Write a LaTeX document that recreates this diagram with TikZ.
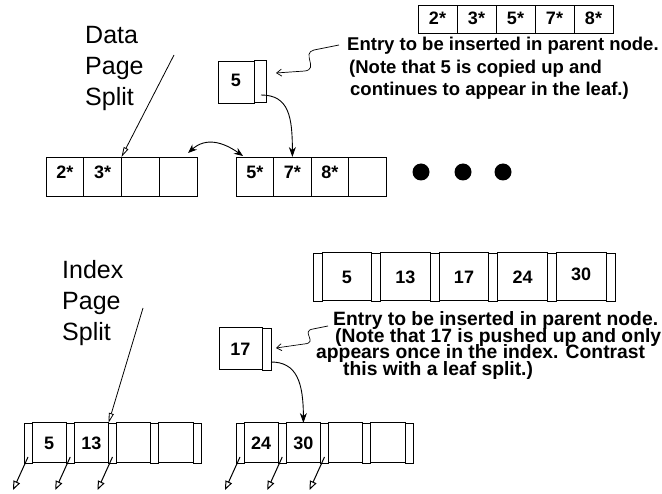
\documentclass[tikz,border=0pt]{standalone}
\usepackage{fontspec}
\setmainfont{Liberation Sans}
\usetikzlibrary{arrows.meta}

\newcommand{\splitfont}{\fontsize{25}{31}\selectfont}
\newcommand{\notefont}{\bfseries\fontsize{18.5}{22}\selectfont}
\newcommand{\keyfont}{\bfseries\fontsize{18}{21}\selectfont}

\tikzset{
  cellbox/.style={draw, line width=0.8pt, anchor=north west, inner sep=0pt,
    outer sep=0pt, font=\keyfont},
  datacell/.style={cellbox, minimum width=37.75pt, minimum height=39pt, text depth=8pt},
  keycell/.style={cellbox, line width=1pt, minimum width=34.25pt, minimum height=40pt},
  ptrcell/.style={cellbox, minimum width=8pt, minimum height=40pt},
  heading/.style={anchor=north west, align=left, inner sep=0pt, font=\splitfont},
  note/.style={anchor=base west, inner sep=0pt, font=\notefont},
  splitarrow/.style={line width=0.8pt, -{Triangle[open, length=10pt, width=5pt]}},
  curvearrow/.style={line width=0.9pt, -{Stealth[length=10pt, width=7pt]}},
  ptrarrow/.style={line width=1pt, -{Triangle[open, length=9pt, width=7pt]}},
  squiggle/.style={line width=0.7pt, -{Straight Barb[length=5pt, width=7pt]}},
}

\begin{document}
\begin{tikzpicture}[x=1pt, y=-1pt]
\useasboundingbox (0,0) rectangle (662,494);

%% leaf split

% full leaf before the split
\foreach \k/\v in {0/2*,1/3*,2/5*,3/7*,4/8*}
  \node[datacell, minimum width=39pt, minimum height=28pt, text depth=2pt] (dt\k) at ({418+39*\k},5) {\v};

% the two halves
\foreach \k/\v in {0/2*,1/3*,2/{},3/{}}
  \node[datacell] (dl\k) at ({46+37.75*\k},157) {\v};
\foreach \k/\v in {0/5*,1/7*,2/8*,3/{}}
  \node[datacell] (dr\k) at ({236+37.5*\k},157) {\v};

% entry copied up
\node[datacell, minimum width=36pt, minimum height=42pt, text depth=4pt] (up5) at (218,61) {5};
\node[ptrcell, line width=1pt, minimum width=12pt, minimum height=42pt] (up5p) at (254,61) {};

\node[heading] (datalbl) at (85,26) {Data\\Page\\Split};
\node[note] (dnote1) at (347,51) {Entry to be inserted in parent node.};
\node[note] (dnote2) at (349,74) {(Note that 5 is copied up and};
\node[note] (dnote3) at (350,96) {continues to appear in the leaf.)};

\coordinate (dataarr) at (174,55);
\coordinate (sqA) at (339,45);
\coordinate (tipA) at (276,73);
\coordinate (upA) at (261,95);
\coordinate (linkL) at (188,153);
\coordinate (linkR) at (243,156);

\draw[splitarrow] (dataarr) -- (dl2.north west);
\draw[squiggle] (sqA) -- (314,50) .. controls (301,53) and (319,69) .. (305,71) -- (tipA);
\draw[curvearrow] (upA) .. controls +(28,0) and +(0,-40) .. (dr1.north);
\draw[{Stealth[length=9pt, width=7pt]}-{Stealth[length=9pt, width=7pt]}, line width=0.9pt]
  (linkL) .. controls +(18,-16) and +(-20,-14) .. (linkR);

% more leaves follow
\foreach \x in {421,463,503}
  \fill (\x,172) circle (8.5pt);

%% index split

% full index node before the split
\foreach \k in {0,...,5}
  \node[ptrcell, minimum width=9pt, minimum height=48pt] (ip\k) at ({313+58.6*\k},253) {};
\foreach \k/\v/\dy in {0/5/0,1/13/0,2/17/0,3/24/0,4/30/6}
  \node[keycell, minimum width=49.6pt, minimum height=48pt] (ik\k) at ({322+58.6*\k},253) {\raisebox{\dy pt}{\v}};

% the two halves
\foreach \k in {0,...,4} {
  \node[ptrcell] (lp\k) at ({24+42.25*\k},423) {};
  \node[ptrcell] (rp\k) at ({236+42.25*\k},423) {};
}
\foreach \k/\v in {0/5,1/13,2/{},3/{}}
  \node[keycell] (lk\k) at ({32+42.25*\k},423) {\v};
\foreach \k/\v in {0/24,1/30,2/{},3/{}}
  \node[keycell] (rk\k) at ({244+42.25*\k},423) {\v};

% entry pushed up
\node[keycell, minimum width=43pt, minimum height=42pt] (up17) at (219,328) {17};
\node[ptrcell, minimum width=9pt, minimum height=42pt] (up17p) at (262,328) {};

\node[heading] (idxlbl) at (62,260) {Index\\Page\\Split};
\node[note, font=\bfseries\fontsize{19.3}{22}\selectfont] (inote1) at (333,326) {Entry to be inserted in parent node.};
\node[note, font=\bfseries\fontsize{19.3}{22}\selectfont] (inote2) at (335,343) {(Note that 17 is pushed up and only};
\node[note, font=\bfseries\fontsize{19.3}{22}\selectfont] (inote3) at (316,359) {appears once in the index. Contrast};
\node[note, font=\bfseries\fontsize{19.3}{22}\selectfont] (inote4) at (343,376) {this with a leaf split.)};

\coordinate (idxarr) at (143,308);
\coordinate (sqB) at (328,326);
\coordinate (tipB) at (276,348);
\coordinate (upB) at (271,362);

\draw[splitarrow] (idxarr) -- (lk1.north east);
\draw[squiggle] (sqB) -- (313,329) .. controls (300,331) and (319,343) .. (304,344) -- (tipB);
\draw[curvearrow] (upB) .. controls +(26,0) and +(0,-40) .. (rk1.north);

% child pointers
\foreach \k in {0,1,2} {
  \draw[ptrarrow] ([yshift=-14pt]lp\k.center) -- ++(-15,33);
  \draw[ptrarrow] ([yshift=-14pt]rp\k.center) -- ++(-15,33);
}

\end{tikzpicture}
\end{document}
